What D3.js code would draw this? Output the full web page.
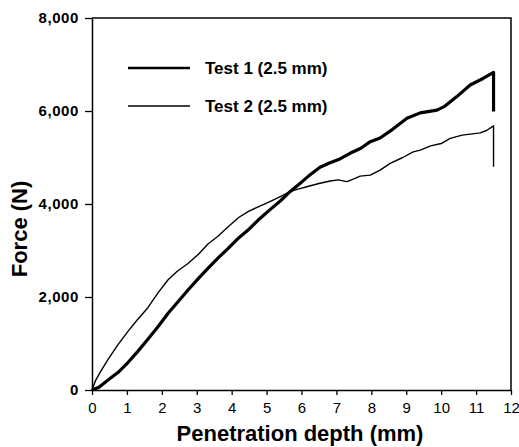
<!DOCTYPE html>
<html>
<head>
<meta charset="utf-8">
<script src="https://cdn.jsdelivr.net/npm/d3@7/dist/d3.min.js"></script>
<style>
  body { margin: 0; background: #fff; }
  svg { display: block; font-family: "Liberation Sans", Arial, sans-serif; }
</style>
</head>
<body>
<svg width="519" height="447"></svg>
<script>
// test 1, thick line (depth mm, force N)
const test1Depth = [0, 0.2, 0.46, 0.75, 1.03, 1.3, 1.6, 1.9, 2.18, 2.5, 2.75, 3.05, 3.32, 3.6, 3.9, 4.2, 4.47, 4.76, 5.1, 5.4, 5.67, 6.0, 6.2, 6.53, 6.8, 7.1, 7.39, 7.7, 7.97, 8.25, 8.6, 9.02, 9.4, 9.88, 10.1, 10.45, 10.83, 11.2, 11.5, 11.5];
const test1Force = [0, 60, 215, 380, 590, 820, 1090, 1370, 1650, 1930, 2150, 2400, 2615, 2830, 3045, 3270, 3440, 3655, 3880, 4070, 4265, 4470, 4600, 4790, 4880, 4970, 5090, 5200, 5340, 5420, 5600, 5843, 5960, 6020, 6100, 6310, 6560, 6700, 6830, 5990];

// test 2, thin line
const test2Depth = [0, 0.1, 0.25, 0.46, 0.75, 1.03, 1.3, 1.6, 1.9, 2.18, 2.45, 2.75, 3.05, 3.32, 3.6, 3.9, 4.2, 4.47, 4.76, 5.0, 5.2, 5.45, 5.67, 5.9, 6.15, 6.5, 6.82, 7.05, 7.3, 7.5, 7.68, 7.97, 8.25, 8.54, 8.9, 9.2, 9.4, 9.7, 10.0, 10.26, 10.6, 11.12, 11.3, 11.5, 11.5];
const test2Force = [0, 200, 400, 660, 980, 1260, 1510, 1770, 2100, 2370, 2560, 2720, 2920, 3140, 3300, 3510, 3710, 3835, 3940, 4020, 4090, 4180, 4265, 4320, 4370, 4440, 4495, 4520, 4480, 4540, 4600, 4620, 4730, 4875, 5000, 5120, 5160, 5250, 5300, 5410, 5480, 5530, 5580, 5680, 4800];

const xTicks = [0, 1, 2, 3, 4, 5, 6, 7, 8, 9, 10, 11, 12];
const yTicks = [0, 2000, 4000, 6000, 8000];
const legendLabels = ['Test 1 (2.5 mm)', 'Test 2 (2.5 mm)'];

const svg = d3.select('svg');
const m = { left: 92, right: 511, top: 18, bottom: 390 };

const x = d3.scaleLinear().domain([0, 12]).range([m.left, m.right]);
const y = d3.scaleLinear().domain([0, 8000]).range([m.bottom, m.top]);

// frame (top + right)
svg.append('path')
  .attr('d', `M${m.left},${m.top}H${m.right}V${m.bottom}`)
  .attr('fill', 'none')
  .attr('stroke', '#000')
  .attr('stroke-width', 1.5);

// x axis
const xAxis = svg.append('g')
  .attr('transform', `translate(0,${m.bottom})`)
  .call(d3.axisBottom(x).tickValues(xTicks).tickSize(5).tickSizeOuter(0).tickPadding(7));
xAxis.select('.domain').attr('stroke-width', 1.5);
xAxis.selectAll('.tick line').attr('stroke-width', 1.3);
xAxis.selectAll('text')
  .attr('font-size', 15)
  .attr('font-family', '"Liberation Sans", Arial, sans-serif');

// y axis
const yAxis = svg.append('g')
  .attr('transform', `translate(${m.left},0)`)
  .call(d3.axisLeft(y).tickValues(yTicks).tickSize(7).tickSizeOuter(0).tickPadding(6)
    .tickFormat(d3.format(',')));
yAxis.select('.domain').attr('stroke-width', 1.5);
yAxis.selectAll('.tick line').attr('stroke-width', 1.3);
yAxis.selectAll('text')
  .attr('font-size', 15)
  .attr('font-weight', 'bold')
  .attr('letter-spacing', 0.6)
  .attr('font-family', '"Liberation Sans", Arial, sans-serif');

// axis titles
svg.append('text')
  .attr('x', 300)
  .attr('y', 441)
  .attr('text-anchor', 'middle')
  .attr('font-size', 22)
  .attr('font-weight', 'bold')
  .text('Penetration depth (mm)');

svg.append('text')
  .attr('transform', 'translate(27,229) rotate(-90)')
  .attr('text-anchor', 'middle')
  .attr('font-size', 22)
  .attr('font-weight', 'bold')
  .text('Force (N)');

// curves
const line = d3.line().x(d => x(d[0])).y(d => y(d[1])).curve(d3.curveLinear);
const series = [
  { pts: d3.zip(test1Depth, test1Force), w: 3.2 },
  { pts: d3.zip(test2Depth, test2Force), w: 1.4 }
];
svg.selectAll('.curve')
  .data(series)
  .join('path')
  .attr('class', 'curve')
  .attr('d', d => line(d.pts))
  .attr('fill', 'none')
  .attr('stroke', '#000')
  .attr('stroke-width', d => d.w)
  .attr('stroke-linejoin', 'round');

// legend
const legend = svg.append('g');
legendLabels.forEach((lab, i) => {
  const ly = 68 + i * 38;
  legend.append('line')
    .attr('x1', 128).attr('x2', 190)
    .attr('y1', ly).attr('y2', ly)
    .attr('stroke', '#000')
    .attr('stroke-width', i === 0 ? 2.6 : 1.3);
  legend.append('text')
    .attr('x', 205)
    .attr('y', ly + 6)
    .attr('font-size', 17)
    .attr('font-weight', 'bold')
    .text(lab);
});
</script>
</body>
</html>
